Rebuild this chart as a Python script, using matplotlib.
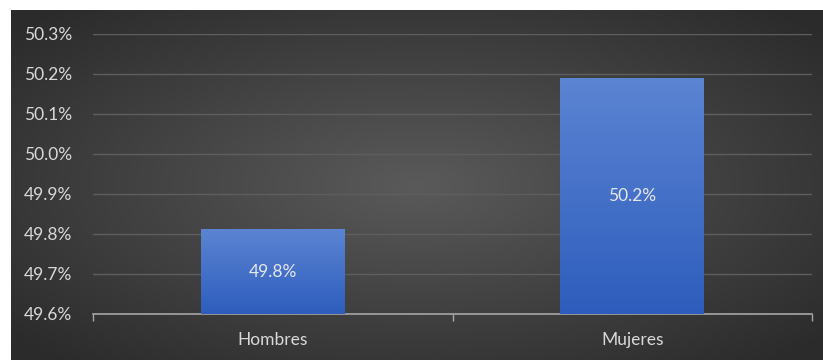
import numpy as np
import matplotlib.pyplot as plt
from matplotlib.colors import LinearSegmentedColormap
from matplotlib.ticker import FuncFormatter

categories = ["Hombres", "Mujeres"]
values = [49.81, 50.19]
labels = ["49.8%", "50.2%"]
yticks = [49.6, 49.7, 49.8, 49.9, 50.0, 50.1, 50.2, 50.3]

plt.rcParams['font.family'] = ['Lato', 'DejaVu Sans']

fig = plt.figure(figsize=(8.23, 3.6), dpi=100)
fig.patch.set_facecolor('white')

# dark radial background
bg = fig.add_axes([11 / 823, 0, 812 / 823, 350 / 360])
yy, xx = np.mgrid[-1:1:200j, -1:1:400j]
r = np.sqrt(xx ** 2 + yy ** 2)
bg_cmap = LinearSegmentedColormap.from_list("bg", ["#5a5a5a", "#2b2b2b"])
bg.imshow(r, cmap=bg_cmap, aspect='auto', extent=[0, 1, 0, 1], vmin=0, vmax=1.35)
bg.set_axis_off()

ax = fig.add_axes([93 / 823, 46 / 360, 719 / 823, 280 / 360])
ax.set_facecolor('none')

bar_cmap = LinearSegmentedColormap.from_list("bar", ["#2e5dbd", "#5b84d2"])
grad = np.linspace(0, 1, 100).reshape(-1, 1)
w = 0.4
for i, v in enumerate(values):
    ax.imshow(grad, cmap=bar_cmap, aspect='auto', origin='lower',
              extent=[i - w / 2, i + w / 2, 49.6, v], zorder=3)
    ax.text(i, (49.6 + v) / 2, labels[i], ha='center', va='center',
            color='#e6e6e6', fontsize=12.5, zorder=4)

ax.set_xlim(-0.5, 1.5)
ax.set_ylim(49.6, 50.3)
ax.set_yticks(yticks)
ax.yaxis.set_major_formatter(FuncFormatter(lambda v, p: f"{v:.1f}%"))
ax.grid(axis='y', color='#5e5e5e', linewidth=1)
ax.set_axisbelow(True)
ax.tick_params(axis='y', length=0, colors='#d9d9d9', labelsize=12.5, pad=15)

ax.set_xticks([0, 1])
ax.set_xticklabels(categories)
ax.set_xticks([-0.5, 0.5, 1.5], minor=True)
ax.tick_params(axis='x', which='major', length=0, colors='#d9d9d9', labelsize=12.5, pad=13)
ax.tick_params(axis='x', which='minor', length=5, color='#a6a6a6', width=1)
for s in ['top', 'right', 'left']:
    ax.spines[s].set_visible(False)
ax.spines['bottom'].set_color('#a6a6a6')
ax.spines['bottom'].set_linewidth(1.2)

fig.savefig("out.png", dpi=100)
